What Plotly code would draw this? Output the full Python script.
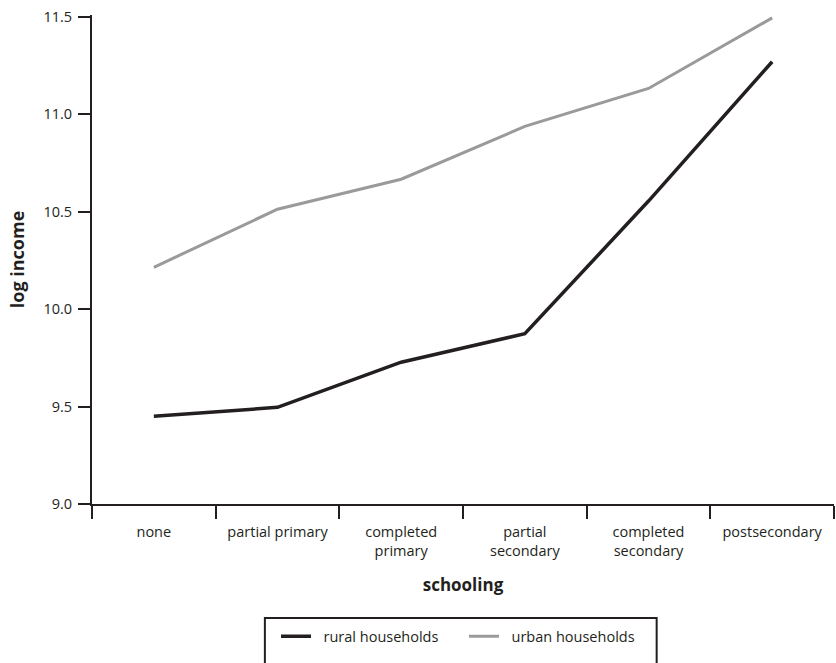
import plotly.graph_objects as go

categories = ["none", "partial primary", "completed<br>primary", "partial<br>secondary",
              "completed<br>secondary", "postsecondary"]
rural = [9.45, 9.496, 9.728, 9.874, 10.555, 11.27]
urban = [10.215, 10.513, 10.667, 10.938, 11.133, 11.495]
y_ticks = [9.0, 9.5, 10.0, 10.5, 11.0, 11.5]
y_tick_text = ["9.0", "9.5", "10.0", "10.5", "11.0", "11.5"]
series_names = ["rural households", "urban households"]

INK = "#231f20"
GREY = "#9a9a9a"
FONT = "Open Sans"
PAD = "\u00a0\u00a0"

fig = go.Figure()
fig.add_trace(go.Scatter(x=categories, y=rural, mode="lines", name=PAD + series_names[0],
                         line=dict(color=INK, width=3.5)))
fig.add_trace(go.Scatter(x=categories, y=urban, mode="lines", name=PAD + series_names[1],
                         line=dict(color=GREY, width=3)))

fig.update_layout(
    width=836, height=663,
    margin=dict(l=92, r=2, t=15, b=159, autoexpand=False),
    paper_bgcolor="white", plot_bgcolor="white",
    font=dict(family=FONT, size=14.5, color=INK),
    showlegend=True,
    legend=dict(orientation="h", x=0.248, xanchor="left", y=-0.238, yanchor="top",
                font=dict(family=FONT, size=14.5, color=INK),
                entrywidth=143, entrywidthmode="pixels",
                bgcolor="rgba(0,0,0,0)", borderwidth=0),
    shapes=[dict(type="rect", xref="paper", yref="paper",
                 x0=0.233, x1=0.761, y0=-0.233, y1=-0.40,
                 line=dict(color=INK, width=2), fillcolor="rgba(0,0,0,0)")],
)
fig.update_xaxes(
    type="category", range=[-0.5, 5.5],
    showline=True, linecolor=INK, linewidth=2,
    ticks="outside", tickson="boundaries", ticklen=13, tickwidth=2, tickcolor=INK,
    ticklabelstandoff=14,
    showgrid=False, zeroline=False,
    tickfont=dict(family=FONT, size=14.5, color=INK),
    title=dict(text="<b>schooling</b>", font=dict(family=FONT, size=17, color=INK), standoff=20),
)
fig.update_yaxes(
    range=[9.0, 11.51], tickvals=y_ticks, ticktext=y_tick_text,
    showline=True, linecolor=INK, linewidth=2,
    ticks="outside", ticklen=12, tickwidth=2, tickcolor=INK,
    ticklabelstandoff=3,
    showgrid=False, zeroline=False,
    tickfont=dict(family=FONT, size=14.5, color=INK),
    title=dict(text="<b>log income</b>", font=dict(family=FONT, size=18, color=INK), standoff=14),
)

fig.write_html("out.html", config={"displayModeBar": False},
               post_script="document.body.style.margin='0';document.body.style.padding='0';")
